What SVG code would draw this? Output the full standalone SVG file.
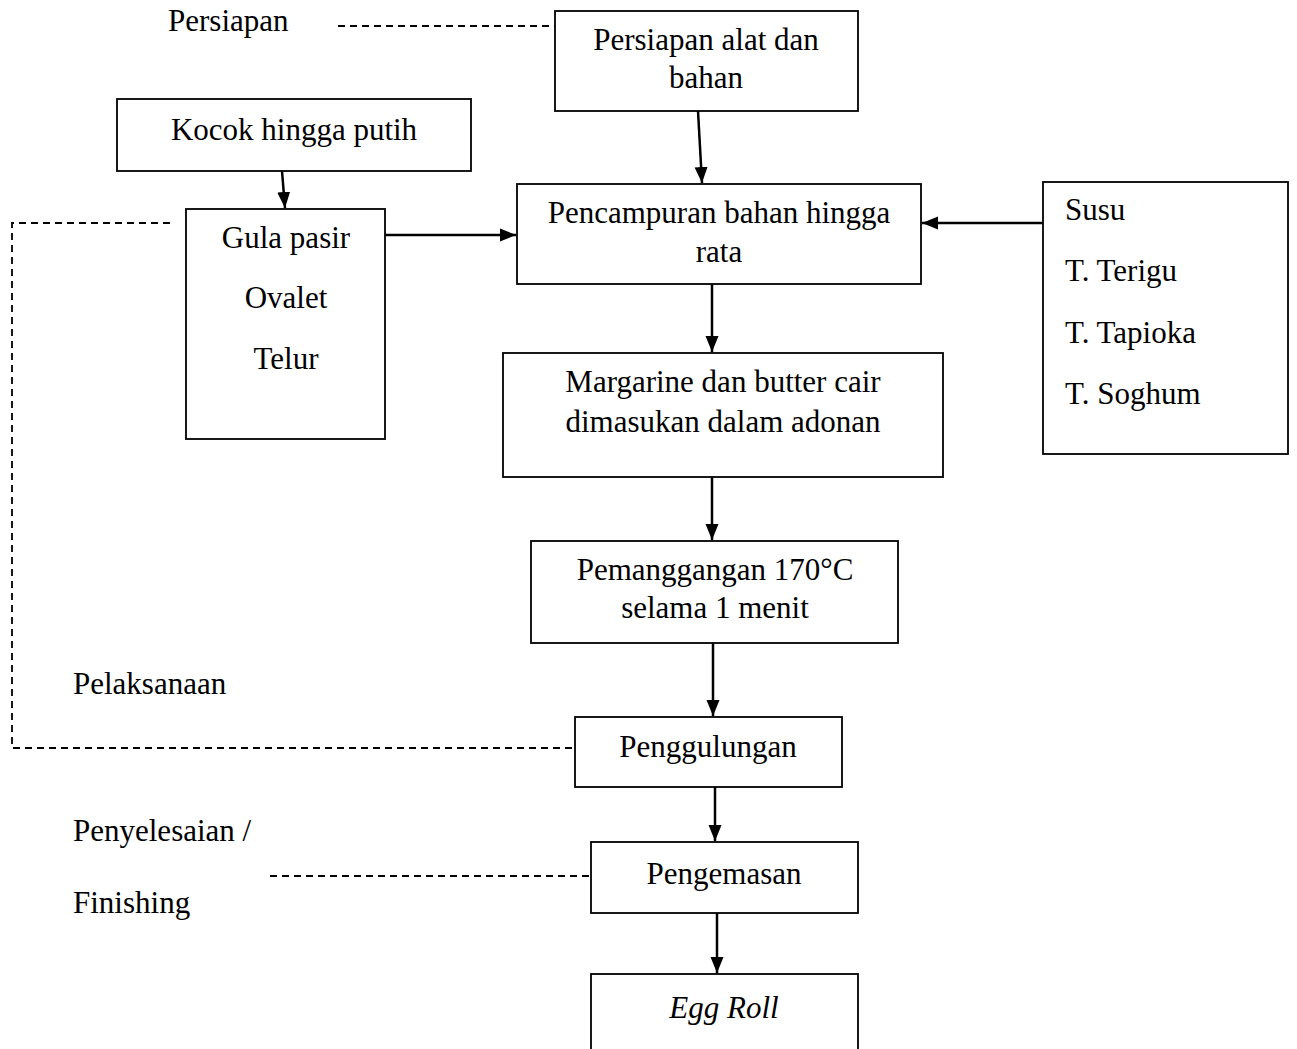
<svg xmlns="http://www.w3.org/2000/svg" width="1297" height="1049" viewBox="0 0 1297 1049">
<style>
.box{fill:#fff;stroke:#000;stroke-width:1.8}
.t{font-family:"Liberation Serif","Times New Roman",serif;font-size:31px;fill:#000}
.c{text-anchor:middle}
.arr{stroke:#000;stroke-width:2.5;fill:none;marker-end:url(#ah)}
.dash{stroke:#000;stroke-width:1.8;fill:none;stroke-dasharray:7 5}
</style>
<defs>
<marker id="ah" markerUnits="userSpaceOnUse" markerWidth="17" markerHeight="14" refX="16" refY="6.5" orient="auto" viewBox="0 0 17 13">
<path d="M0,0 L16,6.5 L0,13 Z" fill="#000"/>
</marker>
</defs>
<rect width="1297" height="1049" fill="#fff"/>
<g id="connectors">
<path class="dash" d="M338,26 H555"/>
<path class="dash" d="M170,223 H12 V748 H575"/>
<path class="dash" d="M270,876 H591"/>
<path class="arr" d="M282,171 L285,208"/>
<path class="arr" d="M385,235 H516"/>
<path class="arr" d="M698,111 L702,183"/>
<path class="arr" d="M1044,223 H922"/>
<path class="arr" d="M712,284 V352"/>
<path class="arr" d="M712,477 V540"/>
<path class="arr" d="M713,643 V716"/>
<path class="arr" d="M715,787 V841"/>
<path class="arr" d="M717,913 V973"/>
</g>
<g id="label-persiapan"><text class="t" x="168" y="31">Persiapan</text></g>
<g id="label-pelaksanaan"><text class="t" x="73" y="694">Pelaksanaan</text></g>
<g id="label-penyelesaian"><text class="t" x="73" y="841">Penyelesaian /</text><text class="t" x="73" y="913">Finishing</text></g>
<g id="node-persiapan-alat"><rect class="box" x="555" y="11" width="303" height="100"/><text class="t c" x="706" y="50">Persiapan alat dan</text><text class="t c" x="706" y="88">bahan</text></g>
<g id="node-kocok"><rect class="box" x="117" y="99" width="354" height="72"/><text class="t c" x="294" y="140">Kocok hingga putih</text></g>
<g id="node-gula"><rect class="box" x="186" y="209" width="199" height="230"/><text class="t c" x="286" y="248">Gula pasir</text><text class="t c" x="286" y="308">Ovalet</text><text class="t c" x="286" y="369">Telur</text></g>
<g id="node-pencampuran"><rect class="box" x="517" y="184" width="404" height="100"/><text class="t c" x="719" y="223">Pencampuran bahan hingga</text><text class="t c" x="719" y="262">rata</text></g>
<g id="node-susu"><rect class="box" x="1043" y="182" width="245" height="272"/><text class="t" x="1065" y="220">Susu</text><text class="t" x="1065" y="281">T. Terigu</text><text class="t" x="1065" y="343">T. Tapioka</text><text class="t" x="1065" y="404">T. Soghum</text></g>
<g id="node-margarine"><rect class="box" x="503" y="353" width="440" height="124"/><text class="t c" x="723" y="392">Margarine dan butter cair</text><text class="t c" x="723" y="432">dimasukan dalam adonan</text></g>
<g id="node-pemanggangan"><rect class="box" x="531" y="541" width="367" height="102"/><text class="t c" x="715" y="580">Pemanggangan 170°C</text><text class="t c" x="715" y="618">selama 1 menit</text></g>
<g id="node-penggulungan"><rect class="box" x="575" y="717" width="267" height="70"/><text class="t c" x="708" y="757">Penggulungan</text></g>
<g id="node-pengemasan"><rect class="box" x="591" y="842" width="267" height="71"/><text class="t c" x="724" y="884">Pengemasan</text></g>
<g id="node-eggroll"><rect class="box" x="591" y="974" width="267" height="90"/><text class="t c" x="724" y="1018" font-style="italic">Egg Roll</text></g>
</svg>
